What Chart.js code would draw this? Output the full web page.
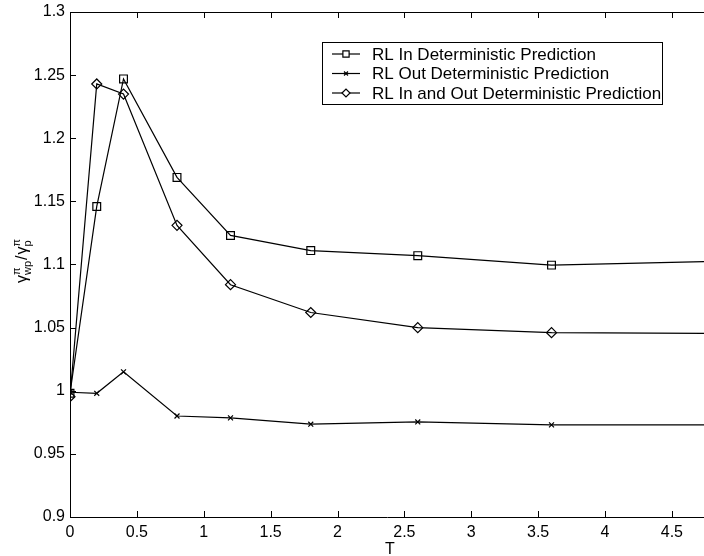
<!DOCTYPE html>
<html>
<head>
<meta charset="utf-8">
<script src="https://cdn.jsdelivr.net/npm/chart.js@4.4.0/dist/chart.umd.min.js"></script>
<style>
    html, body { margin: 0; padding: 0; background: #fff; }
    #wrap { width: 704px; height: 556px; }
</style>
</head>
<body>
<div id="wrap"><canvas id="ratioChart"></canvas></div>
<script>
// values
const tValues = [0, 0.2, 0.4, 0.8, 1.2, 1.8, 2.6, 3.6, 5.0];
const rlIn = [0.998, 1.146, 1.247, 1.169, 1.123, 1.111, 1.107, 1.0995, 1.103];
const rlOut = [0.9988, 0.998, 1.015, 0.980, 0.9785, 0.9735, 0.9753, 0.973, 0.973];
const rlInOut = [0.9953, 1.243, 1.235, 1.131, 1.084, 1.062, 1.050, 1.046, 1.0453];
const seriesNames = [
    "RL In Deterministic Prediction",
    "RL Out Deterministic Prediction",
    "RL In and Out Deterministic Prediction"
];
const markerStyles = ["rect", "crossRot", "rectRot"];
const markerSizes = [5.5, 3.5, 5];
const xTicks = [0, 0.5, 1, 1.5, 2, 2.5, 3, 3.5, 4, 4.5];
const xTitle = "T";

const FONT = "'Liberation Sans', Arial, Helvetica, sans-serif";
Chart.defaults.font.family = FONT;
Chart.defaults.font.size = 16;
Chart.defaults.color = "#000";

function toPoints(ys) {
    return ys.map((y, i) => ({ x: tValues[i], y: y }));
}

const seriesValues = [rlIn, rlOut, rlInOut];
const datasets = seriesValues.map((ys, i) => ({
    label: seriesNames[i],
    data: toPoints(ys),
    borderColor: "#000",
    borderWidth: 1.2,
    pointStyle: markerStyles[i],
    pointRadius: markerSizes[i],
    pointBorderColor: "#000",
    pointBorderWidth: 1.2,
    pointBackgroundColor: "rgba(0,0,0,0)",
    tension: 0
}));

// MATLAB-like frame: inward ticks, top border, legend box, axis titles
const matlabFrame = {
    id: "matlabFrame",
    afterDraw(chart) {
        const { ctx, chartArea, scales } = chart;
        const x = scales.x, y = scales.y;
        ctx.save();
        ctx.strokeStyle = "#000";
        ctx.lineWidth = 1;

        // top border
        ctx.beginPath();
        ctx.moveTo(chartArea.left, chartArea.top + 0.5);
        ctx.lineTo(chartArea.right, chartArea.top + 0.5);
        ctx.stroke();

        // inward ticks
        ctx.beginPath();
        xTicks.forEach(v => {
            const px = Math.round(x.getPixelForValue(v)) + 0.5;
            ctx.moveTo(px, chartArea.bottom);
            ctx.lineTo(px, chartArea.bottom - 6);
            ctx.moveTo(px, chartArea.top);
            ctx.lineTo(px, chartArea.top + 6);
        });
        y.ticks.forEach(t => {
            const py = Math.round(y.getPixelForValue(t.value)) + 0.5;
            ctx.moveTo(chartArea.left, py);
            ctx.lineTo(chartArea.left + 6, py);
        });
        ctx.stroke();

        // legend
        const box = { left: 322, top: 42, width: 340, height: 62 };
        ctx.fillStyle = "#fff";
        ctx.fillRect(box.left, box.top, box.width, box.height);
        ctx.strokeRect(box.left + 0.5, box.top + 0.5, box.width, box.height);
        ctx.font = "17px " + FONT;
        ctx.textBaseline = "middle";
        ctx.textAlign = "left";
        chart.data.datasets.forEach((ds, i) => {
            const rowY = 54 + i * 19.5;
            ctx.beginPath();
            ctx.lineWidth = 1.2;
            ctx.moveTo(332, rowY);
            ctx.lineTo(360, rowY);
            ctx.stroke();
            ctx.fillStyle = "#fff";
            Chart.helpers.drawPoint(ctx, {
                pointStyle: ds.pointStyle,
                radius: ds.pointRadius * 0.8,
                rotation: 0,
                borderWidth: 1.2
            }, 346, rowY);
            ctx.fillStyle = "#000";
            ctx.fillText(ds.label, 372, rowY + 1);
        });

        // x title
        ctx.fillStyle = "#000";
        ctx.textAlign = "center";
        ctx.textBaseline = "alphabetic";
        ctx.font = "16px " + FONT;
        ctx.fillText(xTitle, 390, 554);

        // y title: gamma^pi_wp / gamma^pi_p, rotated
        ctx.translate(27, 283);
        ctx.rotate(-Math.PI / 2);
        ctx.textAlign = "left";
        let cx = 0;
        const big = "16px " + FONT, small = "11px " + FONT;
        const piece = (txt, font, dy) => {
            ctx.font = font;
            ctx.fillText(txt, cx, dy);
            return ctx.measureText(txt).width;
        };
        cx += piece("\u03B3", big, 0);
        const w1 = piece("\u03C0", small, -7);
        const w2 = piece("wp", small, 4);
        cx += Math.max(w1, w2) + 1;
        cx += piece("/", big, 0) + 1;
        cx += piece("\u03B3", big, 0);
        piece("\u03C0", small, -7);
        piece("p", small, 4);
        ctx.restore();
    }
};

new Chart(document.getElementById("ratioChart"), {
    type: "line",
    data: { datasets: datasets },
    options: {
        responsive: true,
        maintainAspectRatio: false,
        animation: false,
        layout: {
            autoPadding: false,
            padding: { top: 12, right: 0, left: 0, bottom: 0 }
        },
        plugins: {
            legend: { display: false },
            tooltip: { enabled: false }
        },
        scales: {
            x: {
                type: "linear",
                min: 0,
                max: 4.74,
                afterBuildTicks: scale => {
                    scale.ticks = xTicks.map(v => ({ value: v }));
                },
                afterFit: scale => {
                    scale.height = 39;
                    scale.paddingLeft = 0;
                    scale.paddingRight = 0;
                },
                grid: { display: false, drawTicks: false },
                border: { display: true, color: "#000", width: 1 },
                ticks: {
                    padding: 6,
                    maxRotation: 0,
                    autoSkip: false,
                    callback: v => String(v)
                }
            },
            y: {
                type: "linear",
                min: 0.9,
                max: 1.3,
                afterFit: scale => {
                    scale.width = 70;
                    scale.paddingTop = 0;
                    scale.paddingBottom = 0;
                },
                grid: { display: false, drawTicks: false },
                border: { display: true, color: "#000", width: 1 },
                ticks: {
                    stepSize: 0.05,
                    padding: 5,
                    callback: v => String(parseFloat(v.toFixed(2)))
                }
            }
        }
    },
    plugins: [matlabFrame]
});
</script>
</body>
</html>
